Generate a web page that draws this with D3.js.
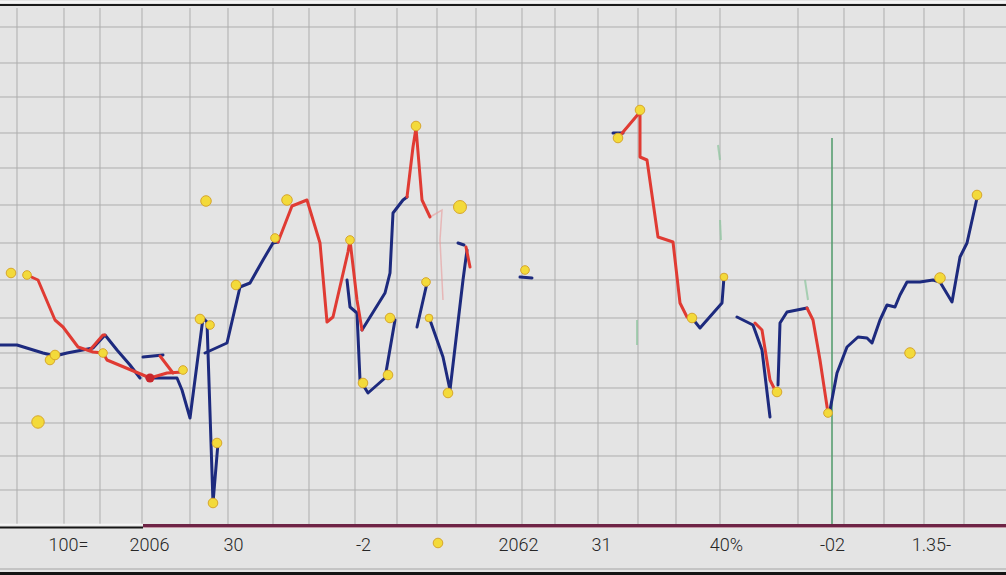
<!DOCTYPE html>
<html>
<head>
<meta charset="utf-8">
<script src="https://cdn.jsdelivr.net/npm/d3@7/dist/d3.min.js"></script>
<style>
  html, body { margin: 0; padding: 0; background: #e4e4e4; }
  svg { display: block; }
</style>
</head>
<body>
<svg id="chart" width="1006" height="575"></svg>
<script>
// ---------------- DATA ----------------
const tickLabels = ["100=", "2006", "30", "-2", "2062", "31", "40%", "-02", "1.35-"];
const tickPositions = [13.6, 29.8, 46.6, 72.6, 103.6, 120.2, 145.2, 166.4, 186.2];

const gridX = [3.4, 12.8, 20, 28.4, 38, 45.6, 54.6, 61.8, 71, 79.4, 87.4, 95.2, 104.4, 111,
               119.6, 127.6, 135.2, 144, 159.6, 168.8, 176.8, 184.8, 192.8];
const gridY = [99.7, 92.5, 85.7, 78.5, 71.5, 64.1, 56.5, 49.1, 41.5, 34.5, 27.5, 20.5, 13.9, 7.1];

// navy series, drawn as separate runs
const navyA = [[0,36.1],[3.4,36.1],[8.6,34.5],[11,33.9],[13.4,34.5],[18.6,35.5],[21,38.1],[23.4,35.1],[26,32.1],[28,29.5]];
const navyB = [[28.6,33.7],[32.6,34.1]];
const navyC = [[29.4,29.5],[35.4,29.5],[36.4,27.1],[38,21.5],[40.6,41.5],[41.4,40.7],[42.6,4.5],[43.6,16.5]];
const navyD = [[41,34.5],[45.4,36.5],[48,47.7],[50,48.5],[52.6,53.1],[54.6,56.5],[55.6,56.7]];
const navyE = [[72.4,39.1],[77,46.5],[78,50.5],[78.6,62.5],[80.6,65.1],[81.4,65.7]];
const navyF = [[69.4,49.1],[70,43.7],[71.4,42.5],[72,29.1],[73.6,26.5],[77,29.5],[79,41.1]];
const navyG = [[83.4,39.7],[85.4,48.5]];
const navyH = [[86,41.1],[88.6,33.7],[90,27.1],[92.6,49.1],[93.4,55.1]];
const navyBlob = [[91.6,56.5],[92.8,56.1]];
const navySmear = [[104,49.7],[106.4,49.5]];
const navyI = [[122.6,78.5],[124.6,78.5]];
const navyJ = [[138.4,41.5],[140,39.5],[144.4,44.5],[144.8,49.7]];
const navyK = [[147.4,41.7],[150.6,40.1],[152.4,35.1],[154,21.7]];
const navyL = [[155.6,28.1],[156,40.5],[157.4,42.7],[161.4,43.5]];
const navyM = [[166,23.1],[167.4,30.5],[169.4,35.7],[171.6,37.7],[173.4,37.5],[174.4,36.5],[176,41.1],[177.4,44.1],
               [179,43.7],[180,46.1],[181.4,48.7],[184,48.7],[186.6,49.1],[188,48.7],[190.4,44.7],[192,53.7],[193.4,56.5],[195.4,65.5]];

// red series runs
const red0 = [[5.4,50.1],[7.6,49.1],[11,41.1],[12.6,39.7],[15.6,35.7],[18.6,34.7],[20.6,34.5],[21.4,33.1],[28.6,30.1],[30,29.5],[33.4,30.5],[36.6,30.7]];
const redBranch1 = [[18,35.1],[20.6,38.1],[21,38.1]];
const redBranch2 = [[32,33.9],[34.6,30.5]];
const red1 = [[55.6,56.7],[58.4,63.9],[61.4,65.1],[64,56.5],[65.4,40.7],[66.6,41.7],[69.6,54.7],[70,57.1],[71.4,45.1],[72.4,39.1]];
const red2 = [[81.4,65.7],[82.6,75.7],[83.2,79.5],[84.4,65.1],[86,61.7]];
const redSmall = [[93.2,55.7],[94,51.7]];
const red3 = [[123.6,77.5],[128,82.7],[128,73.7],[129.4,73.1],[131.6,57.7],[134.6,56.7],[136,44.5],[137.4,41.7],[138.4,41.5]];
const red4 = [[151,40.5],[152.4,39.1],[154,29.1],[155,27.1]];
const red5 = [[161.4,43.5],[162.6,41.1],[164,33.1],[165.6,22.5]];

// faint traces
const pinkFaint = [[86,61.7],[88.4,63.1],[88,57.1],[88.6,45.1]];
const greenFaint = [
  [[143.6,76.1],[144,73.1]],
  [[127.4,41.1],[127.4,36.1]],
  [[161,49.1],[161.6,45.1]],
  [[144,61.1],[144.2,57.1]]
];
const greenLine = [[166.4,77.5],[166.4,0]];

// yellow markers [x, y, size]
const dots = [[2.2,50.5,1],[5.4,50.1,0.9],[10,33.1,1],[11,34.1,1],[7.6,20.7,1.3],[20.6,34.5,0.9],[36.6,31.1,0.9],
              [40,41.3,1],[42,40.1,0.9],[42.6,4.5,1],[43.4,16.5,1],[47.2,48.1,1],[41.2,64.9,1.1],[57.4,65.1,1.1],
              [55,57.5,0.9],[70,57.1,0.9],[72.6,28.5,1],[77.6,30.1,1],[78,41.5,1],[83.2,79.9,1],[92,63.7,1.35],
              [85.2,48.7,0.9],[85.8,41.5,0.8],[89.6,26.5,1],[105,51.1,0.9],[123.6,77.5,1],[128,83.1,1],
              [138.4,41.5,1],[144.8,49.7,0.8],[155.4,26.7,1],[165.6,22.5,0.9],[182,34.5,1.1],[188,49.5,1.1],
              [195.4,66.1,1],[87.6,-3.5,1]];
const redDots = [[30,29.5]];

// ---------------- CHART ----------------
const W = 1006, H = 575;
const svg = d3.select("#chart");
const x = d3.scaleLinear().domain([0, 200]).range([0, 1000]);
const y = d3.scaleLinear().domain([0, 100]).range([525.5, 25.5]);

svg.append("rect").attr("width", W).attr("height", H).attr("fill", "#e4e4e4");

// grid
const g = svg.append("g");
g.selectAll("line.gx").data(gridX).join("line")
  .attr("x1", d => x(d)).attr("x2", d => x(d))
  .attr("y1", 8).attr("y2", 524)
  .attr("stroke", "#adadad").attr("stroke-width", 1);
g.selectAll("line.gy").data(gridY).join("line")
  .attr("x1", 0).attr("x2", W)
  .attr("y1", d => y(d)).attr("y2", d => y(d))
  .attr("stroke", "#adadad").attr("stroke-width", 1);

// top frame
svg.append("line").attr("x1", 0).attr("x2", W).attr("y1", 2).attr("y2", 2).attr("stroke", "#f4f4f4").attr("stroke-width", 2);
svg.append("line").attr("x1", 0).attr("x2", W).attr("y1", 5).attr("y2", 5).attr("stroke", "#1a1a1a").attr("stroke-width", 2.2);

const line = d3.line().x(d => x(d[0])).y(d => y(d[1]));

// faint
svg.append("path").datum(pinkFaint).attr("d", line).attr("fill", "none")
  .attr("stroke", "#e79a9a").attr("stroke-width", 1.5).attr("opacity", 0.6);
greenFaint.forEach(seg => svg.append("path").datum(seg).attr("d", line).attr("fill", "none")
  .attr("stroke", "#8cc49c").attr("stroke-width", 2).attr("opacity", 0.7));
svg.append("path").datum(greenLine).attr("d", line).attr("fill", "none")
  .attr("stroke", "#4f9a6a").attr("stroke-width", 1.5);

const navyColor = "#1d2a7e", redColor = "#e03b33";
const navyRuns = [navyA, navyB, navyC, navyD, navyE, navyF, navyG, navyH, navyBlob, navySmear, navyI, navyJ, navyK, navyL, navyM];
const redRuns = [red0, redBranch1, redBranch2, red1, red2, redSmall, red3, red4, red5];

svg.append("g").selectAll("path").data(navyRuns).join("path")
  .attr("d", line).attr("fill", "none").attr("stroke", navyColor)
  .attr("stroke-width", 3).attr("stroke-linejoin", "round").attr("stroke-linecap", "round");
svg.append("g").selectAll("path").data(redRuns).join("path")
  .attr("d", line).attr("fill", "none").attr("stroke", redColor)
  .attr("stroke-width", 3).attr("stroke-linejoin", "round").attr("stroke-linecap", "round");

// axis baseline
svg.append("line").attr("x1", 0).attr("x2", 143).attr("y1", 524.5).attr("y2", 524.5).attr("stroke", "#f5f5f5").attr("stroke-width", 1.5);
svg.append("line").attr("x1", 0).attr("x2", 143).attr("y1", 527.5).attr("y2", 527.5).attr("stroke", "#151515").attr("stroke-width", 2);
svg.append("line").attr("x1", 143).attr("x2", W).attr("y1", 525.5).attr("y2", 525.5).attr("stroke", "#6e2446").attr("stroke-width", 3);
svg.append("line").attr("x1", 143).attr("x2", W).attr("y1", 527.5).attr("y2", 527.5).attr("stroke", "#a04060").attr("stroke-width", 0.8).attr("opacity", 0.6);

// markers
svg.append("g").selectAll("circle").data(dots).join("circle")
  .attr("cx", d => x(d[0])).attr("cy", d => y(d[1])).attr("r", d => 4.8 * d[2])
  .attr("fill", "#f3da3a").attr("stroke", "#d7a62c").attr("stroke-width", 1);
svg.append("g").selectAll("circle").data(redDots).join("circle")
  .attr("cx", d => x(d[0])).attr("cy", d => y(d[1])).attr("r", 4.5)
  .attr("fill", "#c8262c");

// x labels
const xAxis = d3.axisBottom(x).tickValues(tickPositions).tickFormat((d, i) => tickLabels[i]).tickSize(0).tickPadding(10);
const ax = svg.append("g").attr("transform", "translate(0,528)").call(xAxis);
ax.select(".domain").remove();
ax.selectAll("text").attr("font-family", "Roboto, 'DejaVu Sans', sans-serif").attr("font-weight", 300)
  .attr("font-size", 18).attr("fill", "#262626");

// bottom frame
svg.append("line").attr("x1", 0).attr("x2", W).attr("y1", 569).attr("y2", 569).attr("stroke", "#c4c4c4").attr("stroke-width", 2);
svg.append("rect").attr("x", 0).attr("y", 572).attr("width", W).attr("height", 3).attr("fill", "#141414");
</script>
</body>
</html>
